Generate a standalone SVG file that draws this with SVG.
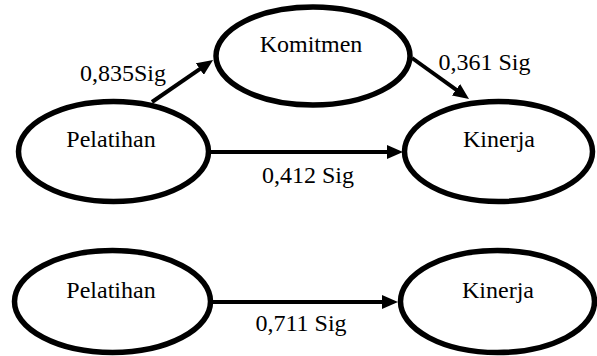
<svg xmlns="http://www.w3.org/2000/svg" width="597" height="356" viewBox="0 0 597 356">
<defs>
<marker id="arr" markerUnits="userSpaceOnUse" markerWidth="16" markerHeight="14" refX="6" refY="7" orient="auto">
<path d="M0,0 L16,7 L0,14 z" fill="#000"/>
</marker>
</defs>
<rect width="597" height="356" fill="#fff"/>
<g id="connectors" stroke="#000" stroke-width="4" fill="none">
<line x1="152" y1="102" x2="204.8" y2="65.7" marker-end="url(#arr)"/>
<line x1="412" y1="58" x2="460.9" y2="93.2" marker-end="url(#arr)"/>
<line x1="211" y1="152" x2="393" y2="152" marker-end="url(#arr)"/>
<line x1="210" y1="302" x2="388" y2="302" marker-end="url(#arr)"/>
</g>
<g id="labels" font-family="Liberation Serif, serif" font-size="24" text-anchor="middle" fill="#000">
<text x="123" y="81">0,835Sig</text>
<text x="484.5" y="70">0,361 Sig</text>
<text x="308" y="183">0,412 Sig</text>
<text x="301" y="331">0,711 Sig</text>
</g>
<g id="nodes" fill="#fff" stroke="#000" stroke-width="5.5">
<g id="komitmen"><ellipse cx="313" cy="56" rx="97" ry="49"/><text x="311" y="52" font-family="Liberation Serif, serif" font-size="24" text-anchor="middle" fill="#000" stroke="none">Komitmen</text></g>
<g id="pelatihan1"><ellipse cx="113.5" cy="151.5" rx="95" ry="50"/><text x="111" y="147" font-family="Liberation Serif, serif" font-size="24" text-anchor="middle" fill="#000" stroke="none">Pelatihan</text></g>
<g id="kinerja1"><ellipse cx="498.5" cy="151.5" rx="94" ry="50"/><text x="499" y="147" font-family="Liberation Serif, serif" font-size="24" text-anchor="middle" fill="#000" stroke="none">Kinerja</text></g>
<g id="pelatihan2"><ellipse cx="112.5" cy="301.5" rx="98" ry="51"/><text x="111" y="298" font-family="Liberation Serif, serif" font-size="24" text-anchor="middle" fill="#000" stroke="none">Pelatihan</text></g>
<g id="kinerja2"><ellipse cx="497.5" cy="301.5" rx="97" ry="51"/><text x="498" y="298" font-family="Liberation Serif, serif" font-size="24" text-anchor="middle" fill="#000" stroke="none">Kinerja</text></g>
</g>
</svg>
